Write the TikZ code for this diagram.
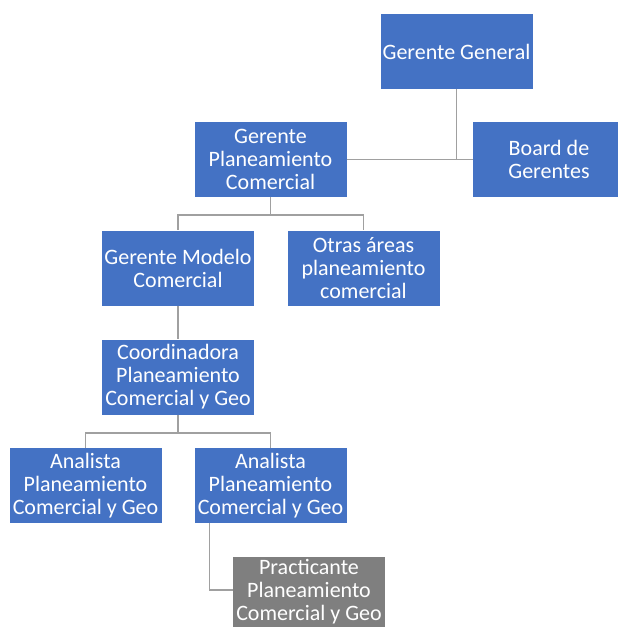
\documentclass[tikz,border=0pt]{standalone}
\usepackage{fontspec}
\setmainfont{Carlito}
\definecolor{boxblue}{HTML}{4472C4}
\definecolor{boxgray}{HTML}{7F7F7F}
\definecolor{linegray}{HTML}{A0A0A0}
\begin{document}
\begin{tikzpicture}[x=1pt,y=-1pt,
  orgbox/.style={rectangle, fill=boxblue, text=white, inner sep=0pt,
    minimum width=152pt, minimum height=75pt, align=center,
    font=\fontsize{22}{23}\selectfont},
  graybox/.style={orgbox, fill=boxgray, minimum height=70pt},
  conn/.style={draw=linegray, line width=1.6pt}]
\clip (0,0) rectangle (618,627);
\fill[white] (0,0) rectangle (618,627);
\node[orgbox] (gg) at (456.5,51.5) {Gerente General};
\node[orgbox] (board) at (549,159.5) {Board de\\Gerentes};
\node[orgbox] (gpc) at (270.5,159.5) {Gerente\\Planeamiento\\Comercial};
\node[orgbox] (gmc) at (178,268) {Gerente Modelo\\Comercial};
\node[orgbox] (otras) at (363.5,268) {Otras áreas\\planeamiento\\comercial};
\node[orgbox] (coord) at (178,377) {Coordinadora\\Planeamiento\\Comercial y Geo};
\node[orgbox] (an1) at (85.5,485.5) {Analista\\Planeamiento\\Comercial y Geo};
\node[orgbox] (an2) at (270.5,485.5) {Analista\\Planeamiento\\Comercial y Geo};
\node[graybox] (prac) at (309,592) {Practicante\\Planeamiento\\Comercial y Geo};
% connectors
\draw[conn] (gpc.east) -- (board.west);
\draw[conn] (gg.south) -- (gg.south |- gpc.east);
\draw[conn] (gpc.south) -- ++(0,18) -| (gmc.north);
\draw[conn] (gpc.south) ++(0,18) -| (otras.north);
\draw[conn] (gmc.south) -- (coord.north);
\draw[conn] (coord.south) -- ++(0,18) -| (an1.north);
\draw[conn] (coord.south) ++(0,18) -| (an2.north);
\coordinate (an2drop) at ([xshift=15pt]an2.south west);
\draw[conn] (an2drop) |- ([yshift=2pt]prac.west);
\end{tikzpicture}
\end{document}
